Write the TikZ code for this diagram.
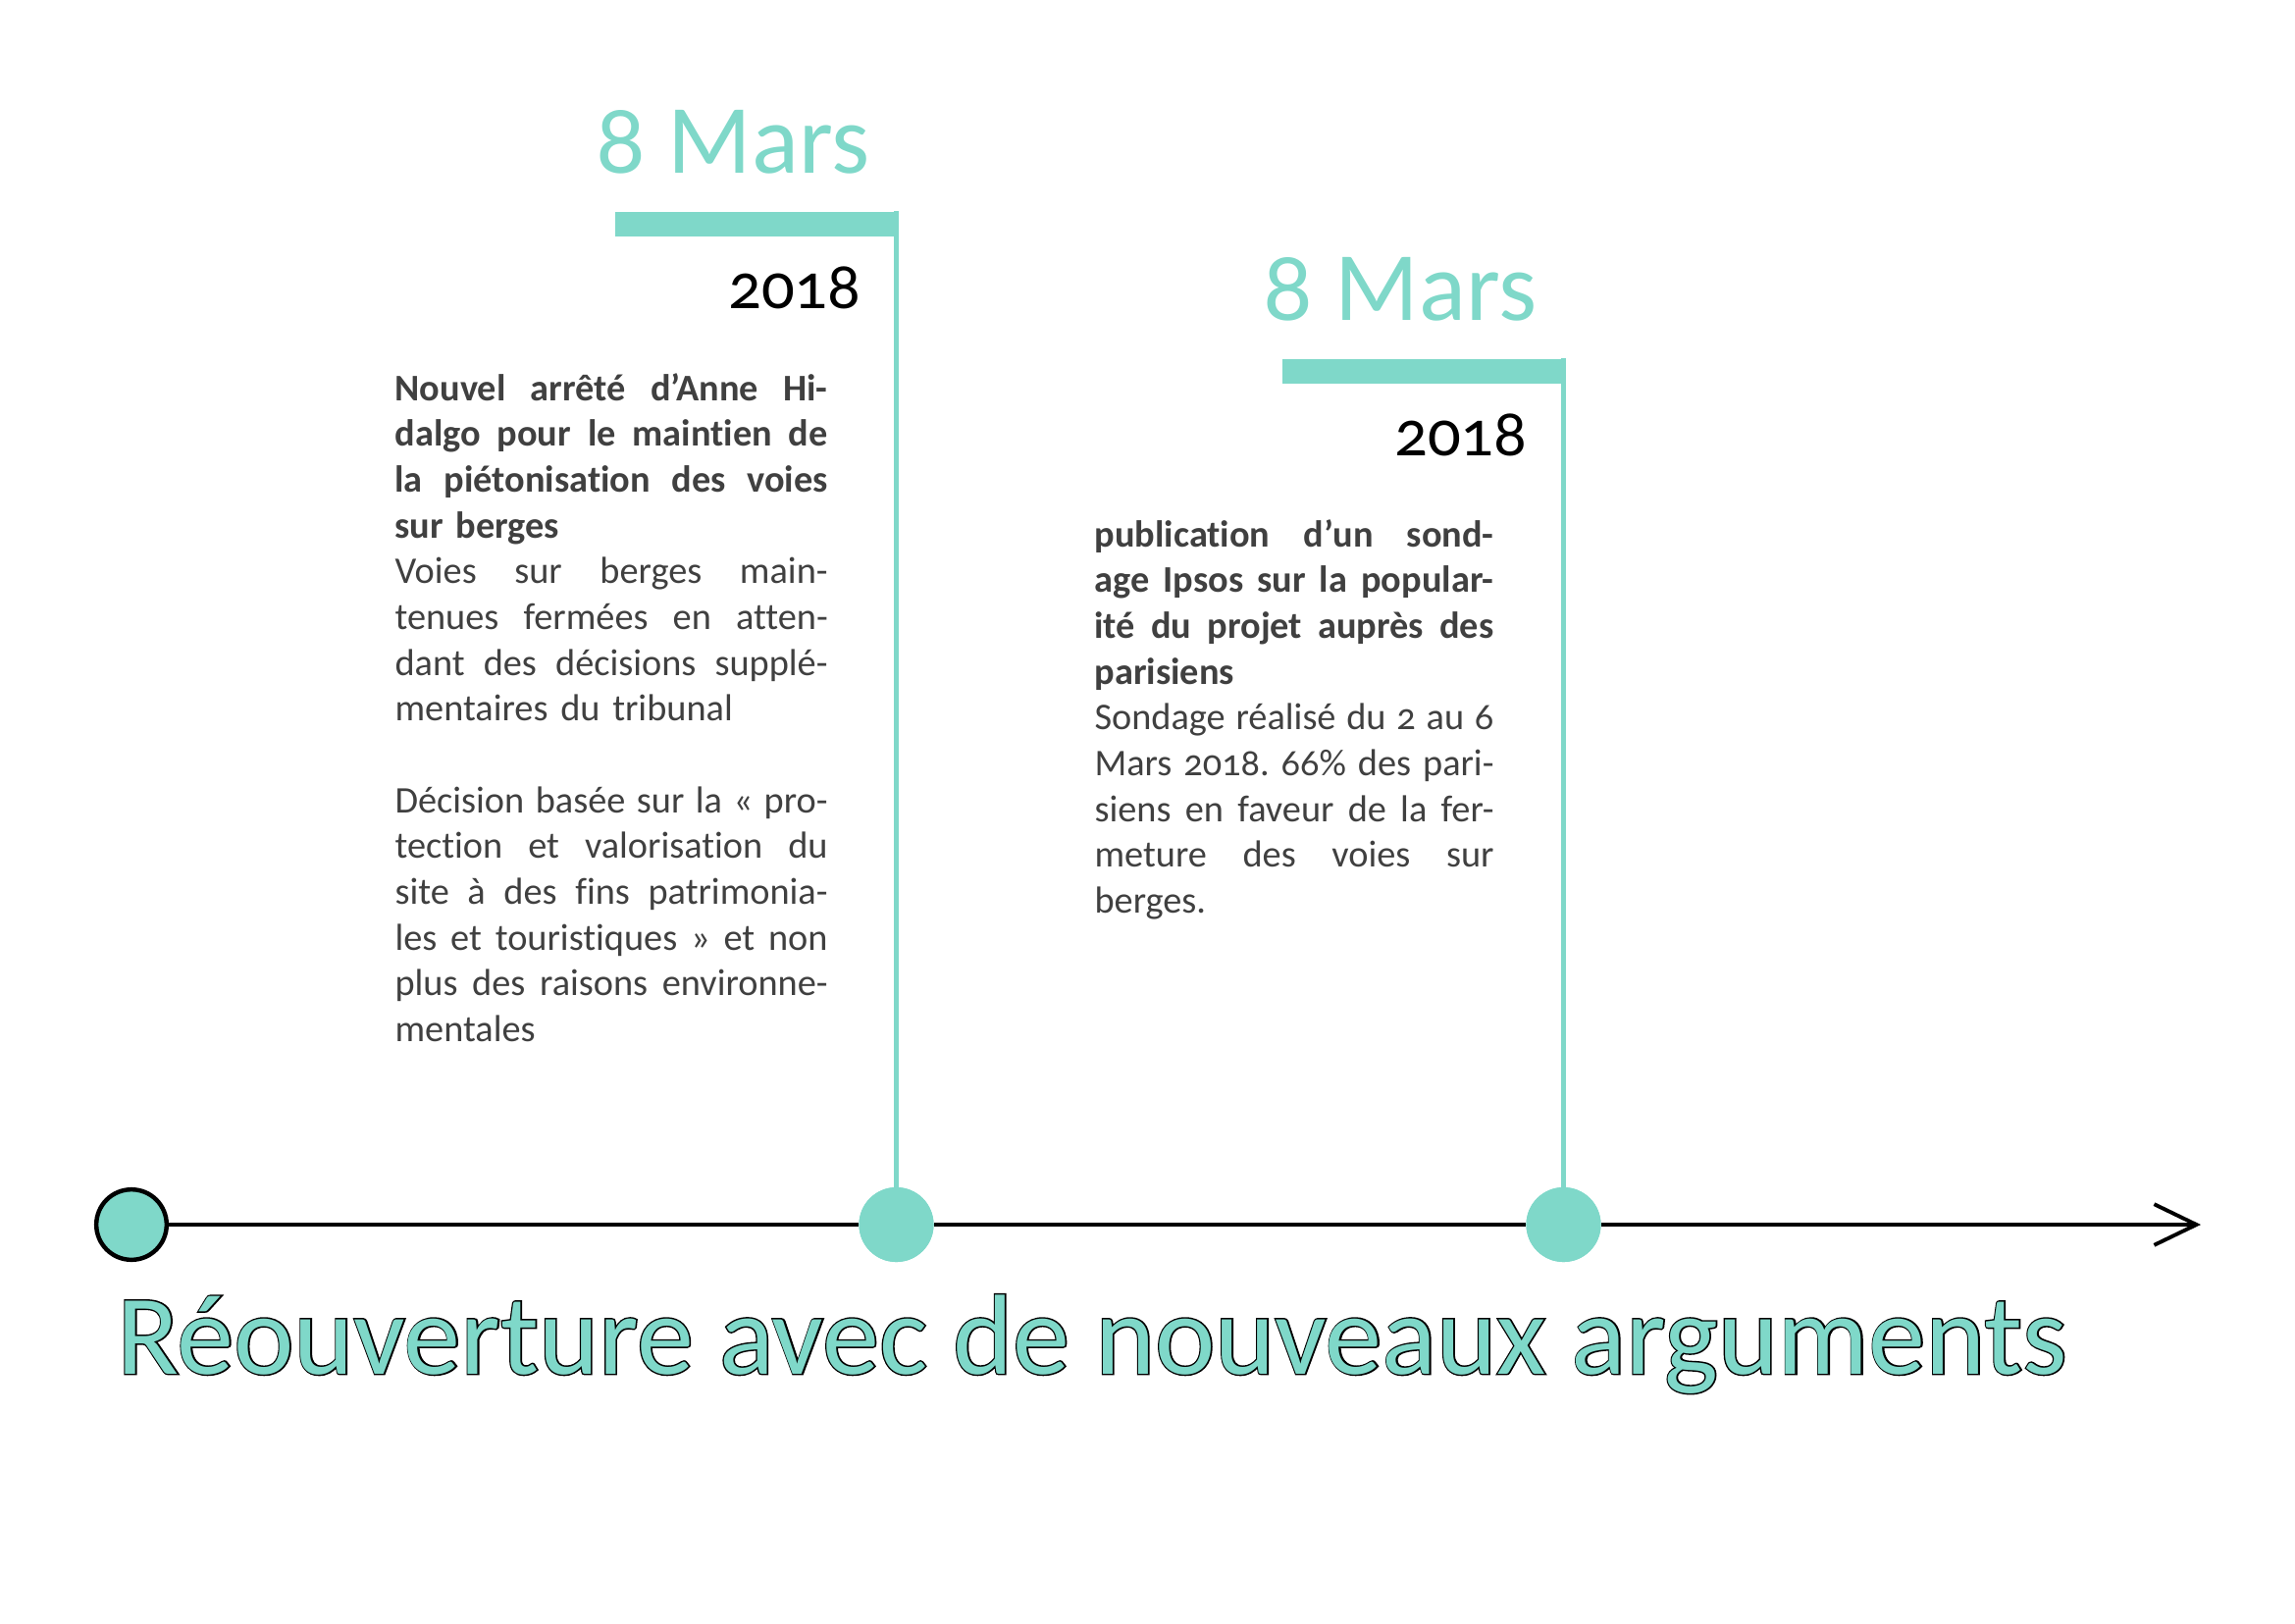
\documentclass[tikz,border=0pt]{standalone}
\usepackage{fontspec}
\setmainfont{Carlito}[Numbers=OldStyle,Ligatures=NoCommon]
\newfontfamily\outlinefont{Carlito}[Numbers=OldStyle,FakeBold=2.5]
\usetikzlibrary{arrows.meta}
\definecolor{tealc}{RGB}{127,216,201}
\definecolor{bodyc}{RGB}{64,64,64}
\newcommand\jline[2]{\leavevmode\hbox to #1{\spaceskip=0.25em plus 1fil minus 0.06em\relax\xspaceskip=\spaceskip #2}}
\newlength\colA \setlength\colA{158.8pt}
\newlength\colB \setlength\colB{146.5pt}
\frenchspacing
\begin{document}
\begin{tikzpicture}[x=0.36pt,y=-0.36pt,
  dot/.style={circle,fill=tealc,minimum size=27.4pt,inner sep=0pt},
  startdot/.style={circle,fill=tealc,draw=black,line width=1.6pt,minimum size=25.8pt,inner sep=0pt},
  bar/.style={rectangle,fill=tealc,minimum width=103.7pt,minimum height=9pt,inner sep=0pt,anchor=north east},
  vline/.style={draw=tealc,line width=1.8pt},
  axis/.style={draw=black,line width=1.4pt},
  datetitle/.style={text=tealc,font=\fontsize{36}{40}\selectfont,anchor=base east,inner sep=0pt},
  yeartext/.style={text=black,font=\fontsize{24}{28}\selectfont,anchor=base east,inner sep=0pt},
  bodytext/.style={text=bodyc,font=\fontsize{13.8}{16.8}\selectfont\frenchspacing,anchor=base west,inner sep=0pt,align=left},
  bigtitle/.style={font=\fontsize{41.8}{48}\selectfont,anchor=base west,inner sep=0pt},
]
\useasboundingbox (0,0) rectangle (2339,1654);

% first event
\node[datetitle] (t1) at (887,176) {8 Mars};
\node[bar] (b1) at (916,215) {};
\node[yeartext] (y1) at (878,314) {2018};
\node[bodytext,text width=\colA] (txt1) at (402,408) {%
\jline{\colA}{\bfseries Nouvel arrêté d’Anne Hi-}\\
\jline{\colA}{\bfseries dalgo pour le maintien de}\\
\jline{\colA}{\bfseries la piétonisation des voies}\\
{\bfseries sur berges}\\
\jline{\colA}{Voies sur berges main-}\\
\jline{\colA}{tenues fermées en atten-}\\
\jline{\colA}{dant des décisions supplé-}\\
mentaires du tribunal\\[16.8pt]
\jline{\colA}{Décision basée sur la « pro-}\\
\jline{\colA}{tection et valorisation du}\\
\jline{\colA}{site à des fins patrimonia-}\\
\jline{\colA}{les et touristiques » et non}\\
\jline{\colA}{plus des raisons environne-}\\
mentales};

% second event
\node[datetitle] (t2) at (1567,326) {8 Mars};
\node[bar] (b2) at (1596,365) {};
\node[yeartext] (y2) at (1557,464) {2018};
\node[bodytext,text width=\colB] (txt2) at (1115,557) {%
\jline{\colB}{\bfseries publication d’un sond-}\\
\jline{\colB}{\bfseries age Ipsos sur la popular-}\\
\jline{\colB}{\bfseries ité du projet auprès des}\\
{\bfseries parisiens}\\
\jline{\colB}{Sondage réalisé du 2 au 6}\\
\jline{\colB}{Mars 2018. 66\% des pari-}\\
\jline{\colB}{siens en faveur de la fer-}\\
\jline{\colB}{meture des voies sur}\\
berges.};

% timeline
\node[startdot] (c0) at (134,1248) {};
\node[dot] (c1) at (913.5,1248) {};
\node[dot] (c2) at (1593.5,1248) {};
\coordinate (aend) at (2243,1248);

\draw[vline] (c1.center) -- (c1 |- b1.north);
\draw[vline] (c2.center) -- (c2 |- b2.north);
\node[dot] (c1top) at (c1) {};
\node[dot] (c2top) at (c2) {};

\draw[axis] (c0) -- (c1);
\draw[axis] (c1) -- (c2);
\draw[axis,-{Straight Barb[length=15.5pt,width=15pt]}] (c2) -- (aend);

% bottom title
\node[bigtitle,text=black,font=\outlinefont\fontsize{41.8}{48}\selectfont] (ttlo) at (119,1400) {Réouverture avec de nouveaux arguments};
\node[bigtitle,text=tealc] (ttl) at (119,1400) {Réouverture avec de nouveaux arguments};
\end{tikzpicture}
\end{document}
